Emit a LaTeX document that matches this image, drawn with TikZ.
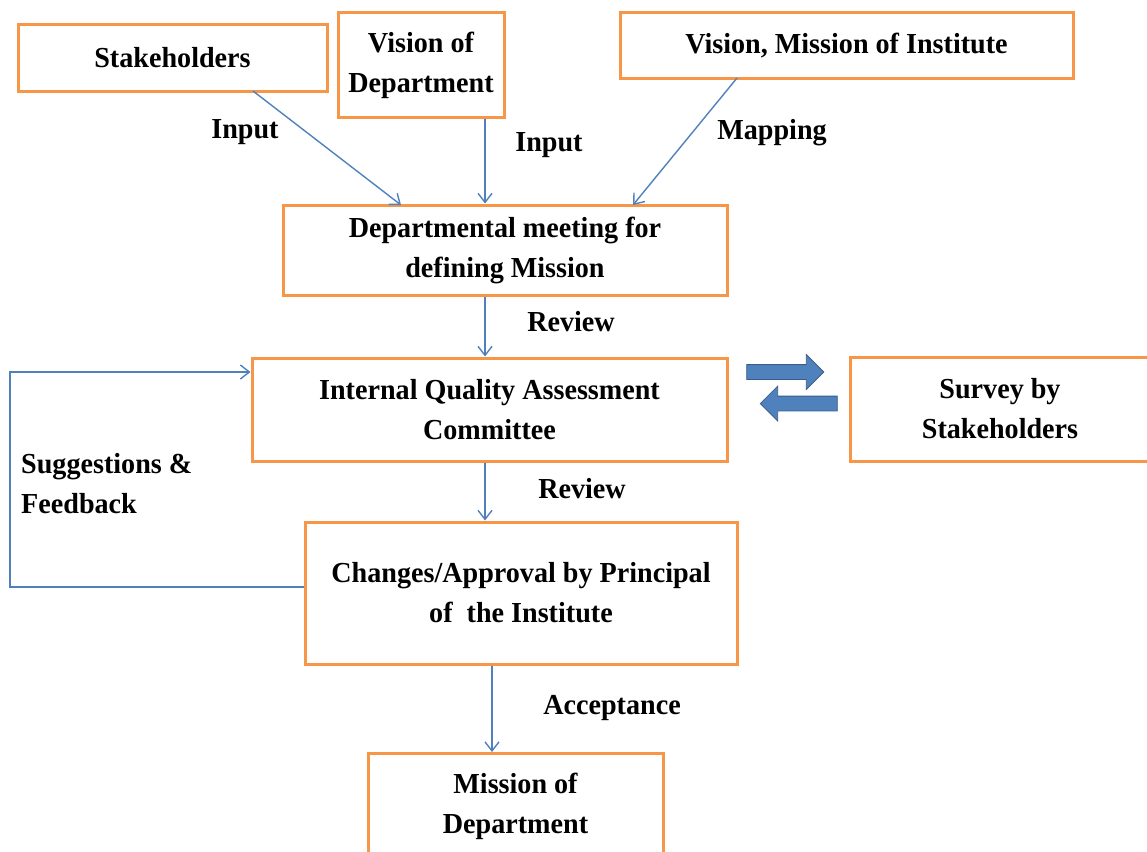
\documentclass[tikz,border=0pt]{standalone}
\usepackage{fontspec}
\setmainfont{Liberation Serif}[FakeStretch=0.97]
\usetikzlibrary{arrows.meta,shapes.arrows}
\definecolor{boxorange}{HTML}{F79646}
\definecolor{linkblue}{HTML}{4F81BD}
\definecolor{blockedge}{HTML}{385D8A}
\begin{document}
\begin{tikzpicture}[x=1pt,y=-1pt,
  every node/.style={font=\fontsize{29}{40}\selectfont\bfseries},
  stepbox/.style={draw=boxorange,line width=3pt,align=center,inner sep=0pt},
  link/.style={draw=linkblue,line width=1.4pt,-{Straight Barb[length=9pt,width=14pt]}},
  lbl/.style={inner sep=0pt,align=left},
  blockarrow/.style={single arrow,fill=linkblue,draw=blockedge,line width=0.8pt,
    inner sep=7pt,minimum height=77pt,single arrow head extend=10pt,
    single arrow head indent=0pt}]
\useasboundingbox (0,0) rectangle (1147,851);
\clip (0,0) rectangle (1147,851);

% process boxes
\node[stepbox,minimum width=309pt,minimum height=66pt] (stake) at (172.5,58) {Stakeholders};
\node[stepbox,minimum width=166pt,minimum height=105pt] (vdept) at (421,65) {Vision of\\Department};
\node[stepbox,minimum width=453pt,minimum height=65pt] (vinst) at (846.5,45.5) {Vision, Mission of Institute};
\node[stepbox,minimum width=444pt,minimum height=90pt] (meet) at (505,250) {Departmental meeting for\\defining Mission};
\node[stepbox,minimum width=475pt,minimum height=103pt] (iqac) at (489.5,409.5) {Internal Quality Assessment\\Committee};
\node[stepbox,minimum width=300pt,minimum height=104pt] (survey) at (1000,409) {Survey by\\Stakeholders};
\node[stepbox,minimum width=432pt,minimum height=142pt] (approve) at (521,593) {Changes/Approval by Principal\\of\ \ the Institute};
\node[stepbox,minimum width=295pt,minimum height=120pt,anchor=north] (mission) at (515.5,752) {};
\node[align=center,inner sep=0pt] (missiontext) at (515.5,806) {Mission of\\Department};

% connectors
\coordinate (stakeout) at (253,91);
\coordinate (meetin1) at (401,205);
\draw[link] (stakeout) -- (meetin1);
\draw[link] (vdept.south -| 485,0) -- (meet.north -| 485,0);
\coordinate (vinstout) at (737,78);
\coordinate (meetin2) at (633,205);
\draw[link] (vinstout) -- (meetin2);
\draw[link] (meet.south -| 485,0) -- (iqac.north -| 485,0);
\draw[link] (iqac.south -| 485,0) -- (approve.north -| 485,0);
\draw[link] (approve.south -| 492,0) -- (mission.north -| 492,0);
\coordinate (loopbot) at (10,587);
\coordinate (looptop) at (10,372);
\draw[link] (approve.west |- loopbot) -- (loopbot) -- (looptop) -- (iqac.west |- looptop);

% connector labels
\node[lbl] (lin1) at (245,132) {Input};
\node[lbl] (lin2) at (549,145) {Input};
\node[lbl] (lmap) at (772,133) {Mapping};
\node[lbl] (lrev1) at (571,322) {Review};
\node[lbl] (lrev2) at (582,489) {Review};
\node[lbl] (lacc) at (612,708) {Acceptance};
\node[lbl,anchor=west] (lfeed) at (21,484) {Suggestions \&\\Feedback};

% exchange with the survey
\node[blockarrow] (toSurvey) at (781.5,372) {};
\node[blockarrow,shape border rotate=180] (fromSurvey) at (802.5,403.5) {};
\end{tikzpicture}
\end{document}
